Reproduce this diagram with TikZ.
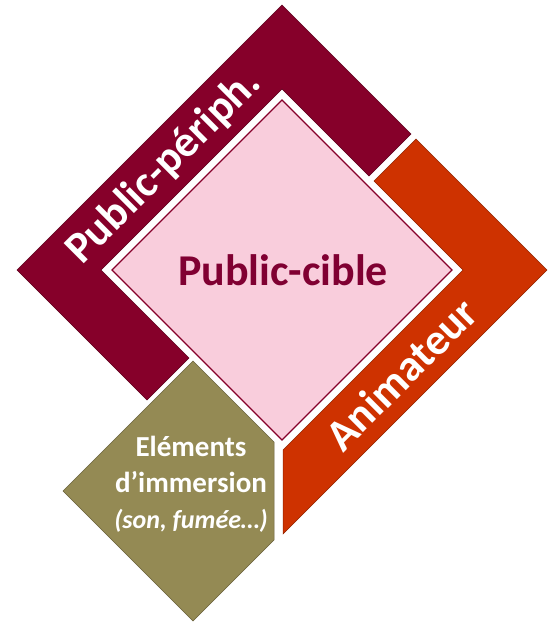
\documentclass[tikz,border=0pt]{standalone}
\usepackage{fontspec}
\setmainfont{Carlito}
\usetikzlibrary{positioning,calc}
\definecolor{periph}{RGB}{134,0,42}
\definecolor{anim}{RGB}{206,50,0}
\definecolor{cible}{RGB}{249,205,220}
\definecolor{immer}{RGB}{148,138,84}
\definecolor{cibletext}{RGB}{128,0,50}
\tikzset{
    band/.style={
        draw=#1!70!black,
        fill=#1,
        line width=0.5pt,
    },
    core/.style={
        draw=periph,
        fill=cible,
        line width=1.4pt,
    },
    bandtext/.style={
        text=white,
        font=\bfseries\fontsize{44}{44}\selectfont,
        rotate=45,
        inner sep=0pt,
    },
    coretext/.style={
        text=cibletext,
        font=\bfseries\fontsize{44}{44}\selectfont,
        inner sep=0pt,
    },
    immertext/.style={
        text=white,
        font=\bfseries\fontsize{29}{36}\selectfont,
        align=center,
        inner sep=0pt,
    },
}
\begin{document}
\begin{tikzpicture}[x=1pt, y=-1pt]
    \useasboundingbox (0,0) rectangle (548,622);

    \coordinate (T) at (282,5);
    \coordinate (R) at (547,270);
    \coordinate (B) at (283,534);
    \coordinate (L) at (17,270);
    \coordinate (wT) at (282,89);
    \coordinate (wR) at (463,270);
    \coordinate (wL) at (101,270);

    \filldraw [band=periph] (T) -- (411,134) -- (369,176) -- (wT) -- (wL)
        -- (189,358) -- (147,400) -- (L) -- cycle;
    \filldraw [band=anim] (416,139) -- (R) -- (B) -- (283,450) -- (wR)
        -- (374,181) -- cycle;
    \filldraw [band=immer] (193,361) -- (274,442) -- (274,540) -- (193,621)
        -- (63,491) -- cycle;
    \filldraw [core] (282,100) -- (452,270) -- (282,440) -- (112,270) -- cycle;

    \node [coretext] (cibleLabel) at (283,270) {Public-cible};
    \node [bandtext] (periphLabel) at (164,167) {Public-périph.};
    \node [bandtext] (animLabel) at (401,374) {Animateur};
    \node [immertext] (immerLabel) at (191,484)
        {Eléments\\ d’immersion\\ {\itshape\fontsize{26}{36}\selectfont (son, fumée…)}};
\end{tikzpicture}
\end{document}
